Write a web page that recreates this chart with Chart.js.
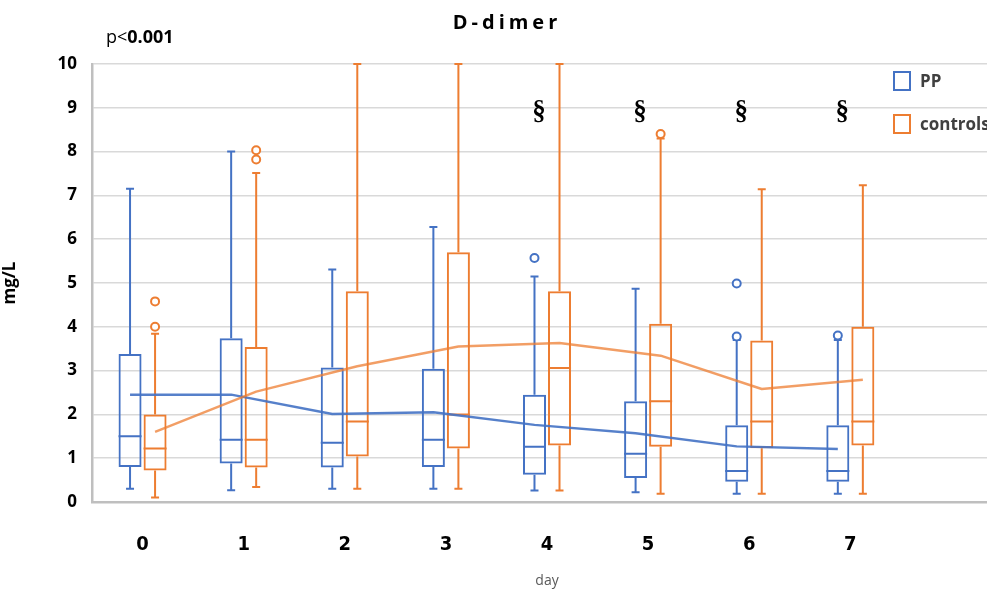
<!DOCTYPE html>
<html>
<head>
<meta charset="utf-8">
<script src="https://cdn.jsdelivr.net/npm/chart.js@4.4.1/dist/chart.umd.min.js"></script>
<style>
  html, body { margin: 0; padding: 0; background: #fff; overflow: hidden; }
  #wrap { position: relative; width: 1010px; height: 589px; }
</style>
</head>
<body>
<div id="wrap"><canvas id="ddimerChart"></canvas></div>
<script>
// Categories (last slot is empty, like the original)
const days = ['0', '1', '2', '3', '4', '5', '6', '7', ''];
const yTicks = [0, 1, 2, 3, 4, 5, 6, 7, 8, 9, 10];

// PP group - box plot values (mg/L)
const ppMin = [0.30, 0.27, 0.30, 0.30, 0.26, 0.22, 0.19, 0.19];
const ppQ1 = [0.80, 0.88, 0.79, 0.80, 0.62, 0.55, 0.46, 0.46];
const ppMedian = [1.50, 1.42, 1.35, 1.42, 1.26, 1.10, 0.71, 0.71];
const ppQ3 = [3.38, 3.74, 3.07, 3.04, 2.45, 2.30, 1.75, 1.75];
const ppMax = [7.15, 8.00, 5.31, 6.28, 5.15, 4.87, 3.70, 3.70];
const ppOutliers = [[], [], [], [], [5.57], [], [3.78, 4.99], [3.80]];
const ppMean = [2.45, 2.45, 2.01, 2.05, 1.76, 1.57, 1.27, 1.21];

// controls - box plot values (mg/L)
const ctrlMin = [0.10, 0.34, 0.30, 0.30, 0.26, 0.19, 0.19, 0.19];
const ctrlQ1 = [0.72, 0.79, 1.04, 1.22, 1.29, 1.26, 1.23, 1.29];
const ctrlMedian = [1.22, 1.42, 1.84, 2.00, 3.06, 2.30, 1.84, 1.84];
const ctrlQ3 = [2.00, 3.54, 4.81, 5.70, 4.81, 4.07, 3.69, 4.00];
const ctrlMax = [3.84, 7.51, 10.0, 10.0, 10.0, 8.30, 7.14, 7.23];
const ctrlOutliers = [[4.00, 4.58], [7.82, 8.03], [], [], [], [8.40], [], []];
const ctrlMean = [1.60, 2.52, 3.10, 3.55, 3.63, 3.34, 2.58, 2.79];

// days marked as significant
const sigDays = ['4', '5', '6', '7'];
const sigLevel = 8.9;

const blue = '#4472C4';
const orange = '#ED7D31';

const groups = [
    { label: 'PP', color: blue, lineColor: 'rgba(68,114,196,0.9)',
      min: ppMin, q1: ppQ1, med: ppMedian, q3: ppQ3, max: ppMax, out: ppOutliers, mean: ppMean },
    { label: 'controls', color: orange, lineColor: 'rgba(237,125,49,0.75)',
      min: ctrlMin, q1: ctrlQ1, med: ctrlMedian, q3: ctrlQ3, max: ctrlMax, out: ctrlOutliers, mean: ctrlMean }
];

// whiskers, medians, outliers, mean lines, annotations
const boxExtras = {
    id: 'boxExtras',
    afterDatasetsDraw(chart) {
        const ctx = chart.ctx;
        const y = chart.scales.y;
        const x = chart.scales.x;
        ctx.save();
        groups.forEach((g, k) => {
            const meta = chart.getDatasetMeta(k);
            ctx.strokeStyle = g.color;
            ctx.lineWidth = 2;
            g.q1.forEach((q, i) => {
                const bar = meta.data[i];
                const bx = bar.x, hw = bar.width / 2;
                ctx.beginPath();
                // whiskers
                ctx.moveTo(bx, y.getPixelForValue(g.q3[i]));
                ctx.lineTo(bx, y.getPixelForValue(g.max[i]));
                ctx.moveTo(bx, y.getPixelForValue(q));
                ctx.lineTo(bx, y.getPixelForValue(g.min[i]));
                // caps
                ctx.moveTo(bx - 4, y.getPixelForValue(g.max[i]));
                ctx.lineTo(bx + 4, y.getPixelForValue(g.max[i]));
                ctx.moveTo(bx - 4, y.getPixelForValue(g.min[i]));
                ctx.lineTo(bx + 4, y.getPixelForValue(g.min[i]));
                // median
                ctx.moveTo(bx - hw, y.getPixelForValue(g.med[i]));
                ctx.lineTo(bx + hw, y.getPixelForValue(g.med[i]));
                ctx.stroke();
                // outliers
                g.out[i].forEach(v => {
                    ctx.beginPath();
                    ctx.arc(bx, y.getPixelForValue(v), 4, 0, Math.PI * 2);
                    ctx.fillStyle = '#fff';
                    ctx.fill();
                    ctx.stroke();
                });
            });
        });
        // mean lines
        groups.forEach((g, k) => {
            const meta = chart.getDatasetMeta(k);
            ctx.strokeStyle = g.lineColor;
            ctx.lineWidth = 2.4;
            ctx.lineJoin = 'round';
            ctx.beginPath();
            g.mean.forEach((v, i) => {
                const px = meta.data[i].x, py = y.getPixelForValue(v);
                if (i === 0) ctx.moveTo(px, py); else ctx.lineTo(px, py);
            });
            ctx.stroke();
        });
        // significance marks
        ctx.fillStyle = '#000';
        ctx.font = 'bold 27px "Liberation Serif", "DejaVu Serif", serif';
        ctx.textAlign = 'center';
        ctx.textBaseline = 'middle';
        sigDays.forEach(d => {
            const i = days.indexOf(d);
            ctx.fillText('§', x.getPixelForValue(i) - 8, y.getPixelForValue(sigLevel));
        });
        ctx.restore();
    },
    afterDraw(chart) {
        const ctx = chart.ctx;
        const area = chart.chartArea;
        ctx.save();
        // title
        ctx.fillStyle = '#000';
        ctx.font = 'bold 20px "Open Sans", sans-serif';
        ctx.textAlign = 'center';
        ctx.textBaseline = 'middle';
        ctx.letterSpacing = '4px';
        ctx.fillText('D-dimer', chart.width / 2 + 2, 23);
        ctx.letterSpacing = '0px';
        // p-value
        ctx.textAlign = 'left';
        ctx.font = '18px "Open Sans", sans-serif';
        ctx.fillText('p<', 106, 38);
        const w = ctx.measureText('p<').width;
        ctx.font = 'bold 18px "Open Sans", sans-serif';
        ctx.fillText('0.001', 106 + w, 38);
        // legend inside plot area
        ctx.lineWidth = 2;
        ctx.font = 'bold 17px "Open Sans", sans-serif';
        groups.forEach((g, k) => {
            const ly = area.top + 8 + k * 43;
            ctx.strokeStyle = g.color;
            ctx.strokeRect(area.right - 108, ly, 16, 18);
            ctx.fillStyle = '#404040';
            ctx.fillText(g.label, area.right - 82, ly + 10);
        });
        ctx.restore();
    }
};

const ctx = document.getElementById('ddimerChart').getContext('2d');
const ddimerChart = new Chart(ctx, {
    type: 'bar',
    data: {
        labels: days,
        datasets: groups.map(g => ({
            label: g.label,
            data: g.q1.map((q, i) => [q, g.q3[i]]),
            backgroundColor: 'rgba(0,0,0,0)',
            borderColor: g.color,
            borderWidth: 2,
            borderSkipped: false,
            categoryPercentage: 0.495,
            barPercentage: 0.92
        }))
    },
    options: {
        responsive: true,
        maintainAspectRatio: false,
        animation: false,
        layout: { padding: { top: 64, right: 8, left: 0, bottom: 0 } },
        plugins: {
            legend: { display: false },
            tooltip: { enabled: false },
            title: { display: false }
        },
        scales: {
            x: {
                grid: { display: false },
                border: { display: true, color: '#bfbfbf', width: 2.5 },
                ticks: {
                    color: '#000',
                    padding: 23,
                    font: { family: '"Liberation Sans Narrow", "DejaVu Sans Condensed", sans-serif', size: 20, weight: 'bold' }
                },
                title: {
                    display: true,
                    text: 'day',
                    color: '#595959',
                    font: { family: '"Open Sans", sans-serif', size: 14 },
                    padding: { top: 10, bottom: 0 }
                },
                afterFit(scale) { scale.height = 87; }
            },
            y: {
                min: 0,
                max: 10,
                afterBuildTicks(scale) { scale.ticks = yTicks.map(v => ({ value: v })); },
                grid: { color: '#d9d9d9', lineWidth: 1.5, drawTicks: false },
                border: { display: true, color: '#bfbfbf', width: 2.5 },
                ticks: {
                    color: '#000',
                    padding: 15,
                    font: { family: '"Open Sans", sans-serif', size: 17, weight: 'bold' }
                },
                title: {
                    display: true,
                    text: 'mg/L',
                    color: '#000',
                    font: { family: '"Open Sans", sans-serif', size: 17, weight: 'bold' },
                    padding: { top: 0, bottom: 0 }
                },
                afterFit(scale) { scale.width = 92; }
            }
        }
    },
    plugins: [boxExtras]
});
</script>
</body>
</html>
